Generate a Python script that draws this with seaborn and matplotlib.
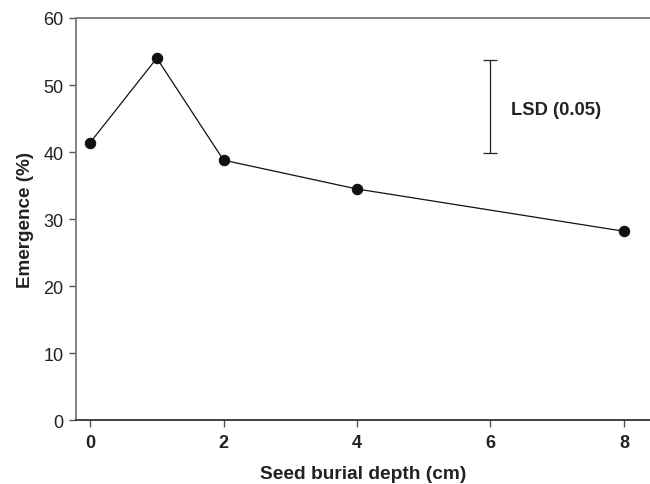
import matplotlib
matplotlib.use("Agg")
import matplotlib.pyplot as plt
import seaborn as sns
import pandas as pd

depth = [0, 1, 2, 4, 8]
emergence = [41.4, 54.0, 38.8, 34.5, 28.2]
lsd_x = 6.0
lsd_low, lsd_high = 39.8, 53.8
lsd_label = "LSD (0.05)"
x_ticks = [0, 2, 4, 6, 8]
y_ticks = [0, 10, 20, 30, 40, 50, 60]

sns.set_theme(style="white")
plt.rcParams['font.family'] = ['Liberation Sans', 'DejaVu Sans']

df = pd.DataFrame({"depth": depth, "emergence": emergence})

fig = plt.figure(figsize=(6.5, 4.85), dpi=100)
ax = fig.add_axes([0.117, 0.131, 0.883, 0.830])

sns.lineplot(data=df, x="depth", y="emergence", ax=ax, color="#111111",
             linewidth=0.9, marker="o", markersize=7.5,
             markeredgecolor="#111111", markerfacecolor="#111111")

ax.errorbar([lsd_x], [(lsd_low + lsd_high) / 2], yerr=[(lsd_high - lsd_low) / 2],
            color="#222222", capsize=5, elinewidth=0.9, capthick=0.9, fmt="none")
ax.text(lsd_x + 0.31, 46.4, lsd_label, fontsize=13.2, fontweight="bold",
        va="center", ha="left", color="#222222")

ax.set_xlim(-0.21, 8.39)
ax.set_ylim(0, 60)
ax.set_xticks(x_ticks)
ax.set_yticks(y_ticks)
ax.set_xticklabels([str(t) for t in x_ticks], fontweight="bold", fontsize=13)
ax.set_yticklabels([str(t) for t in y_ticks], fontsize=13)
ax.tick_params(axis="both", direction="out", length=5, width=1, color="#555555",
               labelcolor="#222222", bottom=True, left=True)
ax.tick_params(axis="x", pad=5)
ax.tick_params(axis="y", pad=4)

for side in ["left", "top"]:
    ax.spines[side].set_color("#777777")
    ax.spines[side].set_linewidth(1.3)
ax.spines["bottom"].set_color("#333333")
ax.spines["bottom"].set_linewidth(1.3)
ax.spines["right"].set_visible(False)

ax.set_xlabel("Seed burial depth (cm)", fontsize=13.8, fontweight="bold",
              color="#222222", labelpad=10)
ax.set_ylabel("Emergence (%)", fontsize=13.6, fontweight="bold",
              color="#222222", labelpad=7)

fig.savefig("out.png", dpi=100)
